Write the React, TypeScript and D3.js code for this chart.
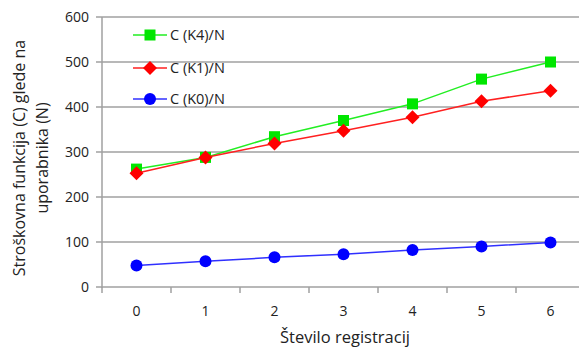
import React from "react";
import * as d3 from "d3";

const categories = ["0", "1", "2", "3", "4", "5", "6"];
const seriesK4 = [262, 288, 334, 370, 407, 462, 500];
const seriesK1 = [253, 288, 319, 347, 377, 413, 436];
const seriesK0 = [48, 57, 66, 73, 82, 90, 99];
const yTicks = [0, 100, 200, 300, 400, 500, 600];
const legendLabels = ["C (K4)/N", "C (K1)/N", "C (K0)/N"];

const W = 579, H = 349;
const left = 102, right = 585, top = 17, bottom = 287;
const FONT = "'Open Sans', 'Noto Sans', sans-serif";

export default function App() {
  const x = d3.scaleBand<string>().domain(categories).range([left, right]);
  const y = d3.scaleLinear().domain([0, 600]).range([bottom, top]);
  const cx = (c: string) => (x(c) as number) + x.bandwidth() / 2;
  const line = d3.line<number>().x((_, i) => cx(categories[i])).y((v) => y(v));

  const series = [
    { name: legendLabels[0], data: seriesK4, color: "#00e600", line: "#22ee22", shape: "square" },
    { name: legendLabels[1], data: seriesK1, color: "#ff0000", line: "#ff2020", shape: "diamond" },
    { name: legendLabels[2], data: seriesK0, color: "#0000ff", line: "#3030ff", shape: "circle" },
  ];

  const marker = (shape: string, px: number, py: number, color: string, key: any) => {
    if (shape === "square") return <rect key={key} x={px - 5.5} y={py - 5.5} width={11} height={11} fill={color} />;
    if (shape === "diamond") return <path key={key} d={`M${px},${py - 7}L${px + 7},${py}L${px},${py + 7}L${px - 7},${py}Z`} fill={color} />;
    return <circle key={key} cx={px} cy={py} r={6} fill={color} />;
  };

  const legendY = [35, 68, 99];
  const ticksX = d3.range(categories.length + 1).map((i) => left + i * x.bandwidth());

  return (
    <svg width={W} height={H} style={{ position: "absolute", left: 0, top: 0, background: "#fff" }} fontFamily={FONT}>
      {yTicks.map((t) => (
        <line key={t} x1={left - 6} x2={W} y1={y(t)} y2={y(t)} stroke="#a0a0a0" strokeWidth={1.5} />
      ))}
      <line x1={left} x2={left} y1={top} y2={bottom + 1} stroke="#a0a0a0" strokeWidth={1.5} />
      {ticksX.map((t, i) => (
        <line key={i} x1={t} x2={t} y1={bottom} y2={bottom + 6} stroke="#a0a0a0" strokeWidth={1.5} />
      ))}
      {yTicks.map((t) => (
        <text key={t} x={89} y={y(t)} dy="0.35em" textAnchor="end" fontSize={14} fill="#222">{t}</text>
      ))}
      {categories.map((c) => (
        <text key={c} x={cx(c)} y={311} dy="0.35em" textAnchor="middle" fontSize={14} fill="#222">{c}</text>
      ))}
      <text x={345} y={337} dy="0.35em" textAnchor="middle" fontSize={16.5} fill="#222">Število registracij</text>
      <g transform="translate(19,158) rotate(-90)">
        <text x={0} y={0} dy="0.35em" textAnchor="middle" fontSize={16} fill="#222">Stroškovna funkcija (C) glede na</text>
        <text x={0} y={23} dy="0.35em" textAnchor="middle" fontSize={16} fill="#222">uporabnika (N)</text>
      </g>
      {series.map((s, si) => (
        <g key={si}>
          <path d={line(s.data) as string} fill="none" stroke={s.line} strokeWidth={1.5} />
          {s.data.map((v, i) => marker(s.shape, cx(categories[i]), y(v), s.color, i))}
        </g>
      ))}
      {series.map((s, si) => (
        <g key={"l" + si}>
          <line x1={133} x2={167} y1={legendY[si]} y2={legendY[si]} stroke={s.line} strokeWidth={1.5} />
          {marker(s.shape, 150, legendY[si], s.color, "m")}
          <text x={170} y={legendY[si]} dy="0.35em" fontSize={14.5} fill="#222">{s.name}</text>
        </g>
      ))}
    </svg>
  );
}
